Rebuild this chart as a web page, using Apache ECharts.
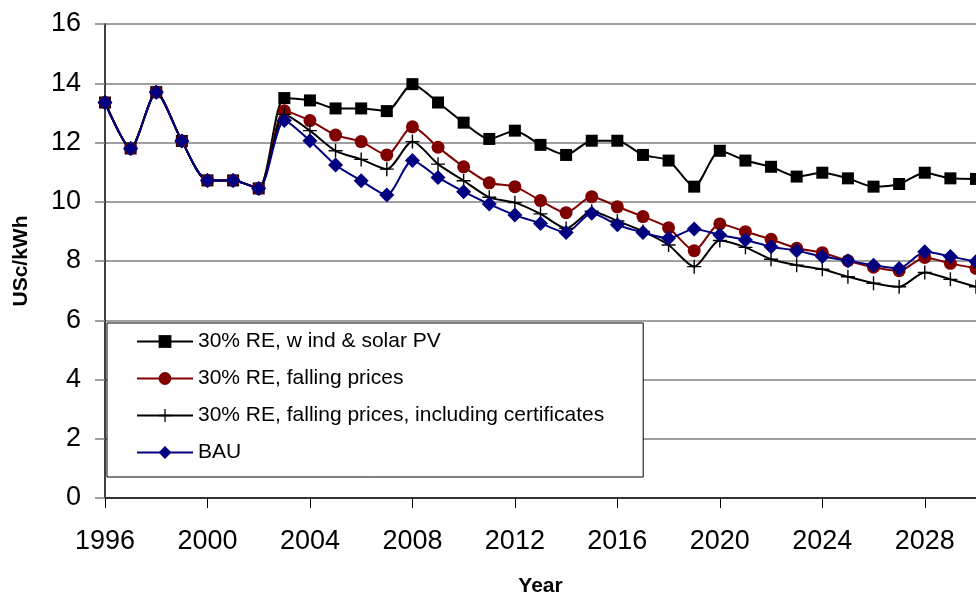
<!DOCTYPE html>
<html>
<head>
<meta charset="utf-8">
<script src="https://cdn.jsdelivr.net/npm/echarts@6/dist/echarts.min.js"></script>
<style>
html,body{margin:0;padding:0;background:#fff;}
#chart{width:976px;height:595px;}
</style>
</head>
<body>
<div id="chart"></div>
<script>
var years = [];
for (var y = 1996; y <= 2030; y++) years.push(String(y));

var seriesNames = [
  "30% RE, w ind & solar PV",
  "30% RE, falling prices",
  "30% RE, falling prices, including certificates",
  "BAU"
];

var windSolar = [13.35, 11.8, 13.7, 12.05, 10.72, 10.72, 10.45,
  13.5, 13.42, 13.15, 13.15, 13.06, 13.97, 13.35, 12.67, 12.12, 12.4, 11.92, 11.58, 12.06, 12.06,
  11.58, 11.39, 10.51, 11.72, 11.39, 11.18, 10.85, 10.98, 10.79, 10.51, 10.6, 10.98, 10.79, 10.77];

var fallingPrices = [13.35, 11.8, 13.7, 12.05, 10.72, 10.72, 10.45,
  13.07, 12.74, 12.25, 12.03, 11.58, 12.53, 11.84, 11.18, 10.64, 10.51, 10.04, 9.63, 10.17, 9.83,
  9.5, 9.12, 8.35, 9.25, 8.99, 8.73, 8.43, 8.28, 8.01, 7.79, 7.67, 8.12, 7.92, 7.75];

var withCertificates = [13.35, 11.8, 13.7, 12.05, 10.72, 10.72, 10.45,
  12.95, 12.4, 11.72, 11.43, 11.1, 12.03, 11.27, 10.71, 10.15, 9.97, 9.59, 9.1, 9.68, 9.35,
  9.0, 8.54, 7.81, 8.69, 8.46, 8.06, 7.86, 7.72, 7.47, 7.25, 7.13, 7.61, 7.38, 7.13];

var bau = [13.35, 11.8, 13.7, 12.05, 10.72, 10.72, 10.45,
  12.74, 12.06, 11.24, 10.71, 10.23, 11.39, 10.82, 10.34, 9.92, 9.55, 9.27, 8.96, 9.61, 9.22,
  8.96, 8.77, 9.08, 8.88, 8.71, 8.48, 8.35, 8.15, 8.01, 7.86, 7.75, 8.31, 8.15, 7.98];

var plusPath = 'path://M-0.7,-7L0.7,-7L0.7,-0.7L7,-0.7L7,0.7L0.7,0.7L0.7,7L-0.7,7L-0.7,0.7L-7,0.7L-7,-0.7L-0.7,-0.7Z';
var FONT = 'Liberation Sans, Arial, sans-serif';

function mk(name, data, color, symbol, size) {
  return {
    name: name,
    type: 'line',
    data: data,
    smooth: 0.25,
    symbol: symbol,
    symbolSize: size,
    showAllSymbol: true,
    lineStyle: { color: color, width: 2 },
    itemStyle: { color: color, opacity: 1 },
    emphasis: { disabled: true },
    animation: false
  };
}

var chart = echarts.init(document.getElementById('chart'), null, { renderer: 'canvas' });
chart.setOption({
  animation: false,
  backgroundColor: '#ffffff',
  grid: { left: 105, right: 0, top: 24, bottom: 97, containLabel: false, outerBoundsMode: 'none' },
  legend: {
    orient: 'vertical',
    left: 107,
    top: 323,
    backgroundColor: '#ffffff',
    borderColor: '#000000',
    borderWidth: 1,
    padding: [8, 39, 14, 29],
    itemWidth: 56,
    itemHeight: 16,
    itemGap: 16,
    textStyle: { fontFamily: FONT, fontSize: 21, color: '#000', lineHeight: 21 },
    data: seriesNames
  },
  xAxis: {
    type: 'category',
    data: years,
    boundaryGap: false,
    name: 'Year',
    nameLocation: 'middle',
    nameGap: 78,
    nameTextStyle: { fontFamily: FONT, fontSize: 21, fontWeight: 'bold', color: '#000' },
    axisLine: { show: true, lineStyle: { color: '#333', width: 2 } },
    axisTick: { show: true, interval: 3, length: 10, lineStyle: { color: '#000', width: 1 } },
    axisLabel: { interval: 3, margin: 30, fontFamily: FONT, fontSize: 27, color: '#000' },
    splitLine: { show: false }
  },
  yAxis: {
    type: 'value',
    min: 0,
    max: 16,
    interval: 2,
    name: 'USc/kWh',
    nameLocation: 'middle',
    nameGap: 73,
    nameRotate: 90,
    nameTextStyle: { fontFamily: FONT, fontSize: 21, fontWeight: 'bold', color: '#000' },
    axisLine: { show: true, lineStyle: { color: '#000', width: 1.5 } },
    axisTick: { show: true, length: 10, lineStyle: { color: '#808080', width: 1.5 } },
    axisLabel: { margin: 24, fontFamily: FONT, fontSize: 27, color: '#000' },
    splitLine: { show: true, lineStyle: { color: '#808080', width: 1.5 } }
  },
  series: [
    mk(seriesNames[0], windSolar, '#000000', 'rect', 12),
    mk(seriesNames[1], fallingPrices, '#800000', 'circle', 13),
    mk(seriesNames[2], withCertificates, '#000000', plusPath, 14),
    mk(seriesNames[3], bau, '#000080', 'diamond', 15)
  ]
});
</script>
</body>
</html>
